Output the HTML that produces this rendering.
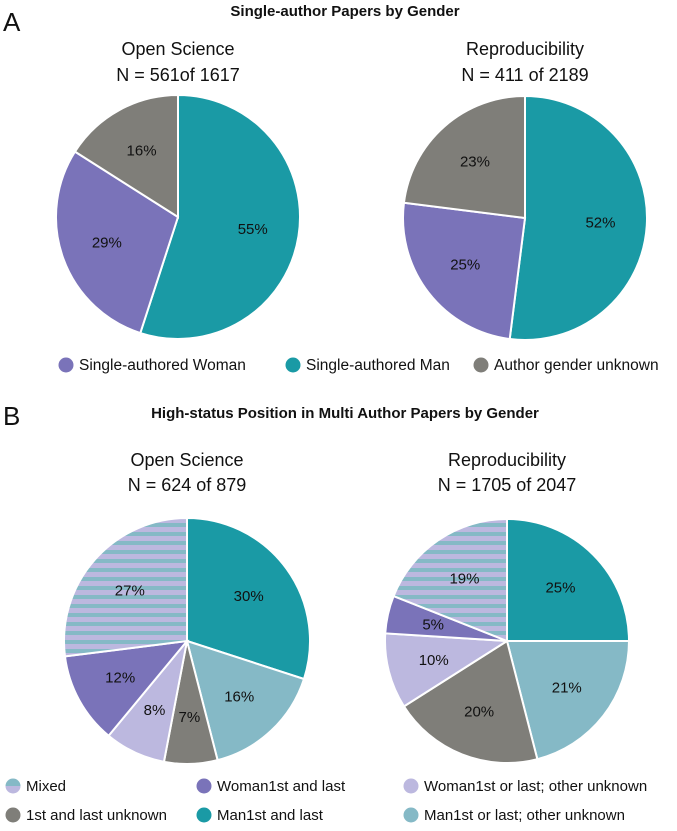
<!DOCTYPE html>
<html><head><meta charset="utf-8"><style>
body{margin:0;background:#fff;font-family:"Liberation Sans",sans-serif;}
svg text{font-family:"Liberation Sans",sans-serif;fill:#111;}
</style></head><body>
<svg id="c" width="677" height="826">
<defs>
<pattern id="stripes" patternUnits="userSpaceOnUse" x="0" y="518" width="10" height="9">
<rect width="10" height="9" fill="#bcb8df"/><rect y="5" width="10" height="4" fill="#85b9c6"/>
</pattern>
<linearGradient id="mixleg" x1="0" y1="0" x2="0" y2="1"><stop offset="0.5" stop-color="#85b9c6"/><stop offset="0.5" stop-color="#bcb8df"/></linearGradient>
</defs>
<text x="3" y="31" font-size="26">A</text>
<text x="345" y="16" font-size="15" font-weight="bold" text-anchor="middle">Single-author Papers by Gender</text>
<text x="178" y="55" font-size="18" text-anchor="middle">Open Science</text>
<text x="178" y="81" font-size="18" text-anchor="middle">N = 561of 1617</text>
<text x="525" y="55" font-size="18" text-anchor="middle">Reproducibility</text>
<text x="525" y="81" font-size="18" text-anchor="middle">N = 411 of 2189</text>
<text x="3" y="425" font-size="26">B</text>
<text x="345" y="418" font-size="15" font-weight="bold" text-anchor="middle">High-status Position in Multi Author Papers by Gender</text>
<text x="187" y="466" font-size="18" text-anchor="middle">Open Science</text>
<text x="187" y="491" font-size="18" text-anchor="middle">N = 624 of 879</text>
<text x="507" y="466" font-size="18" text-anchor="middle">Reproducibility</text>
<text x="507" y="491" font-size="18" text-anchor="middle">N = 1705 of 2047</text>
<g id="pies"></g>
<g id="legends"></g>
</svg>
<script>
const catsA = ["Single-authored Man","Single-authored Woman","Author gender unknown"];
const colorsA = ["#1a9aa5","#7a73b9","#7f7e79"];
const valsA1 = [55,29,16];
const valsA2 = [52,25,23];
const catsB = ["Man1st and last","Man1st or last; other unknown","1st and last unknown","Woman1st or last; other unknown","Woman1st and last","Mixed"];
const colorsB = ["#1a9aa5","#85b9c6","#7f7e79","#bcb8df","#7a73b9","url(#stripes)"];
const valsB1 = [30,16,7,8,12,27];
const valsB2 = [25,21,20,10,5,19];
const NS="http://www.w3.org/2000/svg";
const g=document.getElementById('pies');
function pie(cx,cy,r,vals,cols,name){
  const tot=vals.reduce((a,b)=>a+b,0);let a0=0;
  vals.forEach((v,i)=>{
    const a1=a0+v/tot*2*Math.PI;
    const x0=cx+r*Math.sin(a0),y0=cy-r*Math.cos(a0),x1=cx+r*Math.sin(a1),y1=cy-r*Math.cos(a1);
    const p=document.createElementNS(NS,'path');
    p.setAttribute('d',`M${cx},${cy}L${x0},${y0}A${r},${r} 0 ${a1-a0>Math.PI?1:0} 1 ${x1},${y1}Z`);
    p.setAttribute('fill',cols[i]);p.setAttribute('stroke','#fff');p.setAttribute('stroke-width','2');
    
    
    g.appendChild(p);
    const m=(a0+a1)/2,lr=r*0.62;
    const t=document.createElementNS(NS,'text');
    t.setAttribute('x',cx+lr*Math.sin(m));t.setAttribute('y',cy-lr*Math.cos(m)+5);
    t.setAttribute('text-anchor','middle');t.setAttribute('font-size','15');
    t.textContent=v+'%';
    
    
    g.appendChild(t);
    a0=a1;
  });
}
pie(178,217,122,valsA1,colorsA,'pie-a1');
pie(525,218,122,valsA2,colorsA,'pie-a2');
pie(187,641,123,valsB1,colorsB,'pie-b1');
pie(507,641,122,valsB2,colorsB,'pie-b2');
const lg=document.getElementById('legends');
function leg(x,y,col,label,name,fs){
  const c=document.createElementNS(NS,'circle');
  c.setAttribute('cx',x);c.setAttribute('cy',y);c.setAttribute('r','7.5');c.setAttribute('fill',col);
  
  
  lg.appendChild(c);
  const t=document.createElementNS(NS,'text');
  t.setAttribute('x',x+13);t.setAttribute('y',y+5);t.setAttribute('font-size',fs);t.setAttribute('fill','#222');
  t.textContent=label;
  
  
  lg.appendChild(t);
}
leg(66,365,colorsA[1],catsA[1],'legend-woman','15.5');
leg(293,365,colorsA[0],catsA[0],'legend-man','15.5');
leg(481,365,colorsA[2],catsA[2],'legend-unknown','15.5');
leg(13,786,'url(#mixleg)',catsB[5],'legend-mixed','15');
leg(13,815,colorsB[2],catsB[2],'legend-first-last-unknown','15');
leg(204,786,colorsB[4],catsB[4],'legend-woman-first-last','15');
leg(204,815,colorsB[0],catsB[0],'legend-man-first-last','15');
leg(411,786,colorsB[3],catsB[3],'legend-woman-first-or-last','15');
leg(411,815,colorsB[1],catsB[1],'legend-man-first-or-last','15');
</script>
</body></html>
